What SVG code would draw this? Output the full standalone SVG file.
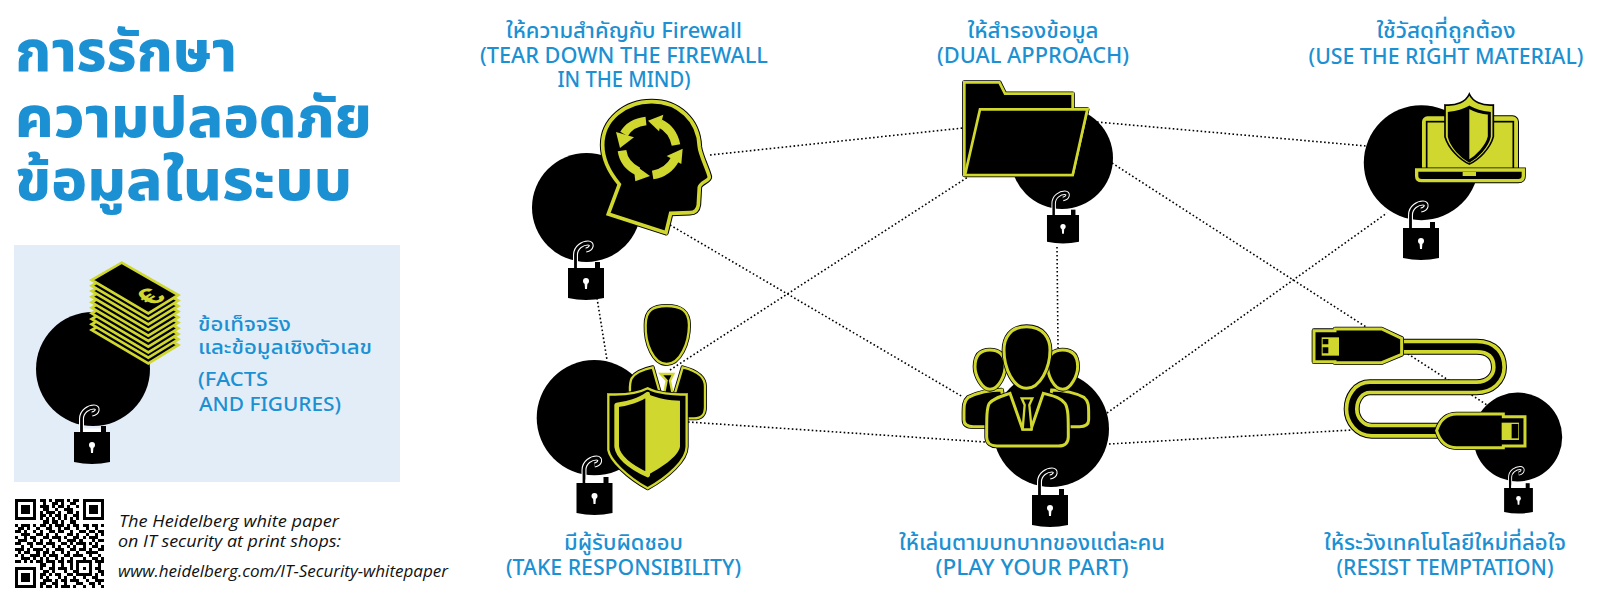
<svg xmlns="http://www.w3.org/2000/svg" width="1600" height="600" viewBox="0 0 1600 600">
<style>
text{font-family:"Noto Sans Thai","Noto Sans","Liberation Sans",sans-serif;fill:#1b90d2}
.t{font-size:21px;font-weight:500;text-anchor:middle}
.h{font-size:57px;font-weight:800}
.s{font-size:20px;font-weight:500}
.i{font-size:15.500px;font-style:italic;fill:#111;font-family:"Open Sans","Noto Sans",sans-serif}
.c{stroke:#000;stroke-width:1.600;stroke-dasharray:1.600 2.400;fill:none}
.k{fill:#000;stroke:#000;stroke-width:17;stroke-linejoin:round}
.y{fill:#000;stroke:#d0d72f;stroke-width:11;stroke-linejoin:miter}
.f{fill:#d0d72f}
.a{fill:none;stroke:#d0d72f;stroke-width:26}
</style>
<defs>
<g id="lock">
<path d="M-10.500,0V-13C-10.500,-21 -3,-25 2,-25C7,-25 6,-19 0,-18" fill="none" stroke="#fff" stroke-width="5"/>
<path d="M-10.500,0V-13C-10.500,-21 -3,-25 2,-25C7,-25 6,-19 0,-18" fill="none" stroke="#000" stroke-width="2.800"/>
<rect x="-9" y="-3.500" width="18" height="3.500" fill="#fff"/>
<rect x="9" y="-6" width="5" height="6" fill="#000"/>
<path d="M-18,0H18V30Q0,34 -18,30Z" fill="#000"/>
<circle cy="13" r="3" fill="#fff"/><path d="M-1.500,14H1.500L1,21H-1Z" fill="#fff"/>
</g>
<path id="sheet" d="M365,68L535,165L445,220L275,120Z"/>
<path id="p-head" d="M295,372L328,283C292,240 278,205 278,165C278,90 345,35 425,35C505,35 565,90 568,170C570,195 598,250 598,262C598,272 570,278 568,292L565,345C563,360 555,368 540,368L482,370L468,428Z"/>
<path id="p-mhead" d="M470,48C510,48 537,60 537,105C537,160 510,222 470,222C430,222 405,160 407,105C407,60 430,48 470,48Z"/>
<path id="p-mbody" d="M428,232C400,238 375,248 365,265C358,280 360,295 360,310L530,385H552C575,385 585,375 585,350V290C585,265 570,245 518,232L495,310H450Z"/>
<path id="p-shield" d="M413,295C385,310 340,315 295,313V480C300,510 350,560 413,595C475,560 530,510 530,470V313C490,315 440,310 413,295Z"/>
<path id="p-back" d="M103,37H208L225,71H428V118H472L428,315H103Z"/>
<path id="p-front" d="M150,118H472L428,315H105Z"/>
<path id="p-g0" d="M290,50C340,50 360,85 360,120C360,175 330,235 290,235C250,235 222,175 222,120C222,85 240,50 290,50Z"/>
<path id="p-g1" d="M180,120C210,120 222,135 225,160C228,195 205,238 180,238C155,238 135,195 135,170C135,135 150,120 180,120Z"/>
<path id="p-g2" d="M398,120C368,120 356,135 353,160C350,195 373,238 398,238C423,238 443,195 443,170C443,135 428,120 398,120Z"/>
<path id="p-gb1" d="M215,240C180,240 140,250 115,262C100,275 102,290 102,330C102,345 112,350 130,350H230Z"/>
<path id="p-gb2" d="M365,240C400,240 440,250 462,262C478,275 476,290 476,330C476,345 466,350 448,350H350Z"/>
<path id="p-gb0" d="M240,250C210,260 190,265 178,280C170,295 170,320 170,380C170,400 185,408 200,408H385C405,408 415,398 415,380C415,320 415,295 405,280C392,262 370,258 340,250L303,358H278Z"/>
<path id="p-cable" d="M395,110H620C670,110 687,140 687,172C687,205 660,232 620,232H300C265,232 245,265 245,297C245,330 270,362 305,362H510" fill="none"/>
<path id="p-u1" d="M132,62H195V57H335L395,85V133L335,158H195V155H132Z"/>
<path id="p-u2" d="M765,320V408H700V413H560C530,413 510,395 500,362C510,330 530,312 560,312H700V320Z"/>
</defs>

<g id="connectors">
<path class="c" d="M710,155L963,128"/>
<path class="c" d="M670,225L963,397"/>
<path class="c" d="M597,298L607,360"/>
<path class="c" d="M670,370L968,177"/>
<path class="c" d="M688,422L985,442"/>
<path class="c" d="M1097,122L1366,146"/>
<path class="c" d="M1112,163L1487,405"/>
<path class="c" d="M1057,247L1058,348"/>
<path class="c" d="M1107,413L1387,213"/>
<path class="c" d="M1109,444L1352,430"/>
</g>

<g id="title">
<text class="h" x="15" y="71" textLength="222" lengthAdjust="spacingAndGlyphs">การรักษา</text>
<text class="h" x="15" y="137" textLength="357" lengthAdjust="spacingAndGlyphs">ความปลอดภัย</text>
<text class="h" x="15" y="200" textLength="337" lengthAdjust="spacingAndGlyphs">ข้อมูลในระบบ</text>
</g>

<g id="node-facts">
<rect x="14" y="245" width="386" height="237" fill="#e3edf8"/>
<circle cx="93" cy="369" r="57" fill="#000"/>
<use href="#lock" transform="translate(92,432)"/>
<g transform="translate(0,240) scale(.3333)" fill="#000" stroke="#d0d72f" stroke-width="8" stroke-linejoin="miter">
<use href="#sheet" y="150"/><use href="#sheet" y="133"/><use href="#sheet" y="117"/><use href="#sheet" y="100"/><use href="#sheet" y="83"/><use href="#sheet" y="67"/><use href="#sheet" y="50"/><use href="#sheet" y="33"/><use href="#sheet" y="17"/><use href="#sheet"/>
</g>
<text transform="matrix(.29,-.17,.29,.17,160,302)" font-size="95" font-weight="700" style="fill:#d0d72f;font-family:'Liberation Sans',sans-serif;text-anchor:middle">€</text>
<text class="s" x="198" y="331" textLength="93" lengthAdjust="spacingAndGlyphs">ข้อเท็จจริง</text>
<text class="s" x="198" y="354" textLength="174" lengthAdjust="spacingAndGlyphs">และข้อมูลเชิงตัวเลข</text>
<text class="s" x="198" y="386" textLength="70" lengthAdjust="spacingAndGlyphs">(FACTS</text>
<text class="s" x="199" y="411" textLength="142" lengthAdjust="spacingAndGlyphs">AND FIGURES)</text>
</g>

<g id="qr-link">
<g transform="translate(15,499) scale(3.070)" fill="none" stroke="#000" shape-rendering="crispEdges">
<path d="M.5 .5h6v6h-6zM22.500 .5h6v6h-6zM.5 22.500h6v6h-6z"/>
<path d="M2 2h3v3h-3zM24 2h3v3h-3zM2 24h3v3h-3z" fill="#000" stroke="none"/>
<path d="M8 .5h2M11 .5h1M13 .5h3M17 .5h1M19 .5h2M9 1.500h1M12 1.500h2M15 1.500h1M18 1.500h2M8 2.500h3M12 2.500h1M14 2.500h2M17 2.500h1M20 2.500h1M9 3.500h2M13 3.500h1M16 3.500h3M8 4.500h1M10 4.500h3M14 4.500h1M17 4.500h2M20 4.500h1M8 5.500h2M11 5.500h1M13 5.500h2M16 5.500h1M19 5.500h2M8 6.500h1M10 6.500h1M12 6.500h1M14 6.500h1M16 6.500h1M18 6.500h1M20 6.500h1M9 7.500h2M12 7.500h2M15 7.500h1M18 7.500h2M0 8.500h1M2 8.500h3M6 8.500h1M8 8.500h2M11 8.500h1M13 8.500h3M17 8.500h1M19 8.500h2M22 8.500h2M25 8.500h2M28 8.500h1M1 9.500h2M4 9.500h1M7 9.500h1M10 9.500h2M14 9.500h1M16 9.500h2M20 9.500h1M23 9.500h1M26 9.500h1M0 10.500h2M3 10.500h1M6 10.500h1M8 10.500h1M11 10.500h2M14 10.500h2M18 10.500h1M21 10.500h2M24 10.500h2M27 10.500h2M2 11.500h3M7 11.500h2M10 11.500h1M13 11.500h1M17 11.500h2M20 11.500h1M23 11.500h1M26 11.500h1M28 11.500h1M0 12.500h1M3 12.500h1M5 12.500h2M9 12.500h2M12 12.500h3M16 12.500h1M19 12.500h2M22 12.500h1M24 12.500h3M1 13.500h3M6 13.500h1M8 13.500h1M11 13.500h1M14 13.500h1M17 13.500h3M21 13.500h1M25 13.500h1M27 13.500h2M0 14.500h2M4 14.500h2M7 14.500h2M10 14.500h3M15 14.500h2M18 14.500h1M20 14.500h3M24 14.500h1M26 14.500h1M2 15.500h1M5 15.500h1M9 15.500h1M12 15.500h1M14 15.500h1M17 15.500h1M19 15.500h1M22 15.500h1M25 15.500h2M28 15.500h1M0 16.500h3M4 16.500h1M6 16.500h3M10 16.500h1M13 16.500h3M18 16.500h2M21 16.500h2M24 16.500h1M27 16.500h2M1 17.500h1M3 17.500h2M7 17.500h1M9 17.500h2M12 17.500h1M15 17.500h1M17 17.500h1M20 17.500h1M23 17.500h3M26 17.500h1M0 18.500h1M2 18.500h1M5 18.500h3M9 18.500h1M11 18.500h3M16 18.500h2M19 18.500h3M24 18.500h1M27 18.500h1M2 19.500h3M6 19.500h1M8 19.500h1M10 19.500h1M13 19.500h1M15 19.500h1M18 19.500h1M22 19.500h1M25 19.500h2M28 19.500h1M0 20.500h2M3 20.500h1M5 20.500h1M7 20.500h2M10 20.500h3M14 20.500h2M17 20.500h2M20 20.500h5M26 20.500h3M8 21.500h2M12 21.500h1M15 21.500h1M18 21.500h1M20 21.500h1M24 21.500h1M27 21.500h1M8 22.500h1M11 22.500h2M14 22.500h3M18 22.500h1M20 22.500h1M22 22.500h1M24 22.500h1M26 22.500h2M9 23.500h2M12 23.500h1M16 23.500h1M19 23.500h2M24 23.500h1M27 23.500h2M8 24.500h2M11 24.500h1M13 24.500h2M17 24.500h2M20 24.500h5M26 24.500h1M28 24.500h1M8 25.500h1M10 25.500h1M14 25.500h1M16 25.500h1M19 25.500h1M22 25.500h1M25 25.500h2M9 26.500h3M13 26.500h1M15 26.500h2M18 26.500h3M23 26.500h1M26 26.500h3M8 27.500h2M12 27.500h2M16 27.500h1M20 27.500h2M24 27.500h2M27 27.500h1M8 28.500h1M10 28.500h2M13 28.500h1M15 28.500h3M19 28.500h1M22 28.500h1M25 28.500h1M28 28.500h1"/>
</g>
<text class="i" x="119" y="527" textLength="220" lengthAdjust="spacingAndGlyphs">The Heidelberg white paper</text>
<text class="i" x="118" y="547" textLength="223" lengthAdjust="spacingAndGlyphs">on IT security at print shops:</text>
<text class="i" x="118" y="577" textLength="330" lengthAdjust="spacingAndGlyphs">www.heidelberg.com/IT-Security-whitepaper</text>
</g>

<g id="node-firewall">
<circle cx="586.500" cy="207.500" r="54.500" fill="#000"/>
<use href="#lock" transform="translate(586,268)"/>
<g transform="translate(510,90) scale(.3333)">
<use href="#p-head" class="k"/><use href="#p-head" class="y"/>
<path class="a" d="M408,93C380,96 355,110 342,132"/><path class="f" d="M318,126L330,174L372,142Z"/>
<path class="a" d="M498,165C492,135 475,112 450,100"/><path class="f" d="M414,92L460,74L447,124Z"/>
<path class="a" d="M428,255C458,250 482,232 495,208"/><path class="f" d="M518,176L514,222L470,198Z"/>
<path class="a" d="M336,182C340,210 358,232 385,245"/><path class="f" d="M420,258L376,274L370,222Z"/>
</g>
<text class="t" x="624" y="38" textLength="236" lengthAdjust="spacingAndGlyphs">ให้ความสำคัญกับ Firewall</text>
<text class="t" x="624" y="63" textLength="288" lengthAdjust="spacingAndGlyphs">(TEAR DOWN THE FIREWALL</text>
<text class="t" x="624" y="87" textLength="133" lengthAdjust="spacingAndGlyphs">IN THE MIND)</text>
</g>

<g id="node-responsibility">
<circle cx="594.300" cy="417.700" r="57.600" fill="#000"/>
<use href="#lock" transform="translate(594.500,483)"/>
<g transform="translate(510,290) scale(.3333)" stroke-linejoin="round">
<use href="#p-mhead" class="k" style="stroke-width:12"/><use href="#p-mhead" class="y" style="stroke-width:7"/>
<use href="#p-mbody" class="k" style="stroke-width:12"/><use href="#p-mbody" class="y" style="stroke-width:7"/>
<path d="M452,252H490L480,272L488,312H462L470,272Z" class="y" style="stroke-width:7"/>
<use href="#p-shield" class="k" style="stroke-width:12"/><use href="#p-shield" class="y" style="stroke-width:7"/>
<path d="M413,312C390,330 350,342 320,345V470C325,505 370,535 413,555Z" fill="#000" stroke="#d0d72f" stroke-width="14"/>
<path class="f" d="M413,312C440,325 480,332 510,332V470C505,500 450,535 413,555Z"/>
</g>
<text class="t" x="623.500" y="550" textLength="119" lengthAdjust="spacingAndGlyphs">มีผู้รับผิดชอบ</text>
<text class="t" x="623.500" y="575" textLength="235" lengthAdjust="spacingAndGlyphs">(TAKE RESPONSIBILITY)</text>
</g>

<g id="node-backup">
<circle cx="1062" cy="158" r="51" fill="#000"/>
<use href="#lock" transform="translate(1063,215) scale(.89)"/>
<g transform="translate(930,70) scale(.3333)">
<use href="#p-back" class="k" style="stroke-width:13"/><use href="#p-back" class="y" style="stroke-width:8"/>
<use href="#p-front" class="y" style="stroke-width:8"/>
</g>
<text class="t" x="1033" y="38" textLength="131" lengthAdjust="spacingAndGlyphs">ให้สำรองข้อมูล</text>
<text class="t" x="1033" y="63" textLength="192" lengthAdjust="spacingAndGlyphs">(DUAL APPROACH)</text>
</g>

<g id="node-role">
<circle cx="1051" cy="429" r="58" fill="#000"/>
<use href="#lock" transform="translate(1050,495)"/>
<g transform="translate(930,310) scale(.3333)">
<use href="#p-gb1" class="k" style="stroke-width:14"/><use href="#p-gb1" class="y" style="stroke-width:9"/>
<use href="#p-gb2" class="k" style="stroke-width:14"/><use href="#p-gb2" class="y" style="stroke-width:9"/>
<use href="#p-g1" class="k" style="stroke-width:14"/><use href="#p-g1" class="y" style="stroke-width:9"/>
<use href="#p-g2" class="k" style="stroke-width:14"/><use href="#p-g2" class="y" style="stroke-width:9"/>
<use href="#p-g0" class="k" style="stroke-width:14"/><use href="#p-g0" class="y" style="stroke-width:9"/>
<use href="#p-gb0" class="k" style="stroke-width:14"/><use href="#p-gb0" class="y" style="stroke-width:9"/>
<path d="M275,265H307L298,285L305,358H278L284,285Z" class="y" style="stroke-width:7"/>
</g>
<text class="t" x="1032" y="550" textLength="266" lengthAdjust="spacingAndGlyphs">ให้เล่นตามบทบาทของแต่ละคน</text>
<text class="t" x="1032" y="575" textLength="193" lengthAdjust="spacingAndGlyphs">(PLAY YOUR PART)</text>
</g>

<g id="node-material">
<circle cx="1421.300" cy="162.700" r="57.500" fill="#000"/>
<use href="#lock" transform="translate(1421,228)"/>
<g transform="translate(1410,90) scale(.3333)">
<rect x="42" y="85" width="276" height="165" rx="10" class="f" stroke="#000" stroke-width="18"/>
<rect x="42" y="85" width="276" height="165" rx="10" class="f" stroke="#d0d72f" stroke-width="12"/>
<rect x="50" y="95" width="260" height="150" class="f" stroke="#000" stroke-width="5"/>
<path d="M20,240H340V258Q340,272 325,272H35Q20,272 20,258Z" fill="#000" stroke="#000" stroke-width="15"/>
<path d="M20,240H340V258Q340,272 325,272H35Q20,272 20,258Z" fill="#000" stroke="#d0d72f" stroke-width="10"/>
<rect x="158" y="246" width="40" height="12" class="f"/>
<path class="f" d="M178,12C168,35 140,48 105,45V140C115,175 150,210 178,222C206,210 241,175 250,140V45C216,48 188,35 178,12Z" stroke="#000" stroke-width="5"/>
<path class="f" d="M178,52C160,62 135,68 118,70V140C125,170 155,200 178,213C201,200 231,170 238,140V70C221,68 196,62 178,52Z" stroke="#000" stroke-width="9"/>
<path d="M178,52C160,62 135,68 118,70V140C125,170 155,200 178,213Z" fill="#000"/>
</g>
<text class="t" x="1446" y="38" textLength="139" lengthAdjust="spacingAndGlyphs">ใช้วัสดุที่ถูกต้อง</text>
<text class="t" x="1446" y="64" textLength="275" lengthAdjust="spacingAndGlyphs">(USE THE RIGHT MATERIAL)</text>
</g>

<g id="node-temptation">
<circle cx="1517.700" cy="437" r="44.500" fill="#000"/>
<use href="#lock" transform="translate(1518.500,488) scale(.8)"/>
<g transform="translate(1270,310) scale(.3333)">
<use href="#p-cable" stroke="#000" stroke-width="48"/>
<use href="#p-cable" stroke="#d0d72f" stroke-width="42"/>
<use href="#p-cable" stroke="#000" stroke-width="20"/>
<use href="#p-u1" class="k" style="stroke-width:14"/><use href="#p-u1" class="y" style="stroke-width:9"/>
<path class="f" d="M155,82H207V137H155Z"/>
<path d="M158,87H175V103H158ZM158,112H175V130H158Z" fill="#000"/>
<use href="#p-u2" class="k" style="stroke-width:14"/><use href="#p-u2" class="y" style="stroke-width:9"/>
<path class="f" d="M695,338H747V390H695Z"/>
<path d="M725,342H745V385H725Z" fill="#000"/>
</g>
<text class="t" x="1445" y="550" textLength="242" lengthAdjust="spacingAndGlyphs">ให้ระวังเทคโนโลยีใหม่ที่ล่อใจ</text>
<text class="t" x="1445" y="575" textLength="217" lengthAdjust="spacingAndGlyphs">(RESIST TEMPTATION)</text>
</g>
</svg>
